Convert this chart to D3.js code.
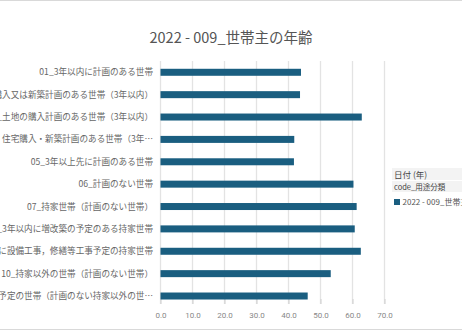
<!DOCTYPE html>
<html>
<head>
<meta charset="utf-8">
<script src="https://cdn.jsdelivr.net/npm/d3@7"></script>
<style>
  html, body { margin: 0; padding: 0; background: #fff; overflow: hidden; }
  svg { display: block; font-family: "Noto Sans CJK JP", "Noto Sans", sans-serif; }
</style>
</head>
<body>
<svg id="chart" width="462" height="330"></svg>
<script>
const categories = [
  '01_3年以内に計画のある世帯',
  '02_住宅購入又は新築計画のある世帯（3年以内）',
  '03_土地の購入計画のある世帯（3年以内）',
  '04_土地・住宅購入・新築計画のある世帯（3年…',
  '05_3年以上先に計画のある世帯',
  '06_計画のない世帯',
  '07_持家世帯（計画のない世帯）',
  '08_3年以内に増改築の予定のある持家世帯',
  '09_3年以内に設備工事，修繕等工事予定の持家世帯',
  '10_持家以外の世帯（計画のない世帯）',
  '11_転居等予定の世帯（計画のない持家以外の世…'
];
const values = [43.9, 43.6, 62.9, 41.8, 41.7, 60.3, 61.3, 60.7, 62.6, 53.2, 46.0];
const ticks = [0, 10, 20, 30, 40, 50, 60, 70];
const seriesName = '2022 - 009_世帯主の年齢';

const svg = d3.select('#chart');
const width = 462, height = 330;
const barColor = '#1a5e80';

// frame lines top and bottom
svg.append('line').attr('x1', 0).attr('x2', width).attr('y1', 0.5).attr('y2', 0.5)
  .attr('stroke', '#d9d9d9').attr('stroke-width', 1);
svg.append('line').attr('x1', 0).attr('x2', width).attr('y1', 329.5).attr('y2', 329.5)
  .attr('stroke', '#d9d9d9').attr('stroke-width', 1);

svg.append('text')
  .attr('x', 231).attr('y', 43)
  .attr('text-anchor', 'middle')
  .attr('font-size', 14.5)
  .attr('fill', '#555')
  .text(seriesName);

const x = d3.scaleLinear().domain([0, 70]).range([160.5, 384.5]);
const y = d3.scaleBand().domain(categories).range([61.1, 307.2]).padding(0);

// gridlines
svg.append('g').selectAll('line').data(ticks).join('line')
  .attr('x1', d => x(d)).attr('x2', d => x(d))
  .attr('y1', 61).attr('y2', 304)
  .attr('stroke', '#e3e3e3').attr('stroke-width', 1.3);

// x axis
const xAxis = d3.axisBottom(x).tickValues(ticks).tickFormat(d3.format('.1f')).tickSize(5).tickPadding(8);
const gx = svg.append('g').attr('transform', 'translate(0,299)').call(xAxis);
gx.select('.domain').remove();
gx.selectAll('.tick line').attr('stroke', '#d0d0d0');
gx.selectAll('.tick text').attr('fill', '#888').attr('font-size', 8).attr('font-family', 'Roboto, "Noto Sans", sans-serif');

// bars
const barH = 7;
svg.append('g').selectAll('rect').data(values).join('rect')
  .attr('x', x(0))
  .attr('y', (d, i) => y(categories[i]) + y.bandwidth() / 2 - barH / 2)
  .attr('width', d => x(d) - x(0))
  .attr('height', barH)
  .attr('fill', barColor);

// category labels
svg.append('g').selectAll('text').data(categories).join('text')
  .attr('x', 153)
  .attr('y', d => y(d) + y.bandwidth() / 2)
  .attr('dy', '0.35em')
  .attr('text-anchor', 'end')
  .attr('font-size', 8.6)
  .attr('fill', '#666')
  .text(d => d);

// legend
const lg = svg.append('g');
lg.append('rect').attr('x', 392).attr('y', 168).attr('width', 80).attr('height', 12).attr('fill', '#f3f3f3');
lg.append('rect').attr('x', 392).attr('y', 181).attr('width', 80).attr('height', 11).attr('fill', '#f3f3f3');
lg.append('text').attr('x', 394).attr('y', 177.5).attr('font-size', 8.5).attr('fill', '#444').text('日付 (年)');
lg.append('text').attr('x', 394).attr('y', 189.5).attr('font-size', 7.5).attr('fill', '#444').text('code_用途分類');
lg.append('rect').attr('x', 394).attr('y', 199).attr('width', 6).attr('height', 6).attr('fill', barColor);
lg.append('text').attr('x', 402.5).attr('y', 205).attr('font-size', 8).attr('fill', '#555').text(seriesName);
</script>
</body>
</html>
